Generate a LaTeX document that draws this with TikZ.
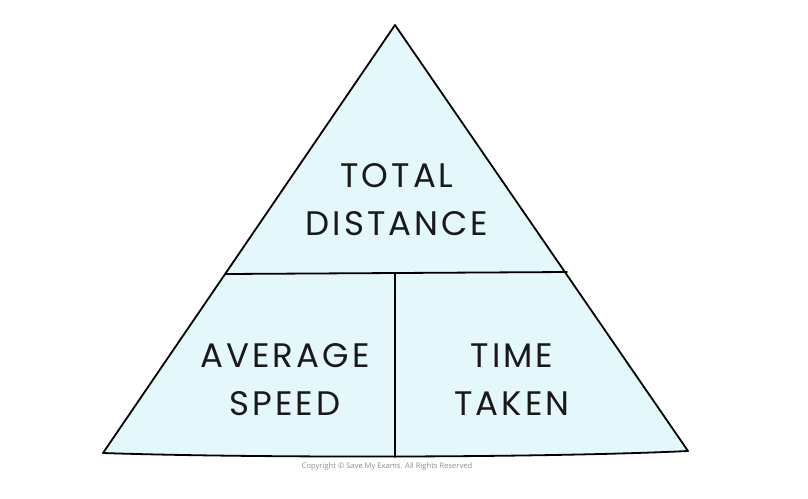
\documentclass[tikz,border=0pt]{standalone}
\usepackage{fontspec}
\setmainfont{Poppins}[LetterSpace=9]
\newfontfamily\copyfont{Open Sans}
\begin{document}
\begin{tikzpicture}[x=1pt,y=-1pt,
  edge/.style={line width=1.8pt, line join=round, line cap=round},
  label/.style={font=\fontsize{34}{48}\selectfont, align=center, text=black!90, inner sep=0pt},
  copyr/.style={font=\copyfont\fontsize{7.6}{9}\selectfont, text=black!45, inner sep=0pt}]
\useasboundingbox (0,0) rectangle (808,498);
\coordinate (apex) at (395,25);
\coordinate (bl) at (103,453);
\coordinate (br) at (688,451);
\coordinate (ml) at (226,274);
\coordinate (mr) at (567,272);
\coordinate (mt) at (395,273);
\coordinate (mb) at (395,457);
\fill[fill={rgb,255:red,228;green,247;blue,250}] (apex) -- (br) .. controls (540,458) and (250,458) .. (bl) -- cycle;
\draw[edge] (apex) -- (br) .. controls (540,458) and (250,458) .. (bl) -- cycle;
\draw[edge] (ml) -- (mr);
\draw[edge] (mt) -- (mb);
\node[label] (total) at (397,200) {TOTAL\\DISTANCE};
\node[label] (avg) at (285,380) {AVERAGE\\SPEED};
\node[label] (time) at (512,380) {TIME\\TAKEN};
\node[copyr] (copy) at (387,467) {Copyright © Save My Exams. All Rights Reserved};
\end{tikzpicture}
\end{document}
